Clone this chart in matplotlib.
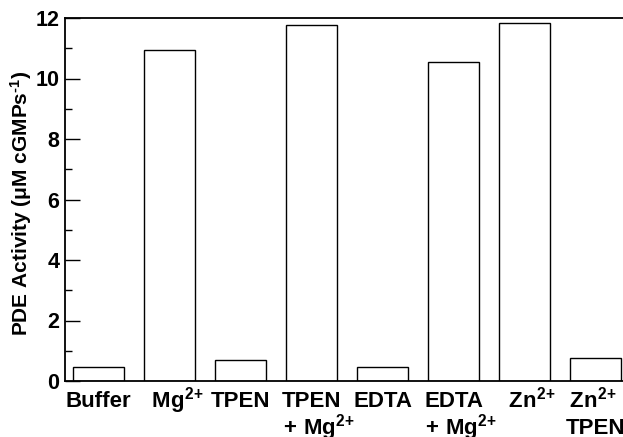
import matplotlib
matplotlib.use("Agg")
import matplotlib.pyplot as plt
from matplotlib.ticker import MultipleLocator, FixedLocator

plt.rcParams["font.family"] = ["Liberation Sans", "DejaVu Sans"]
plt.rcParams["font.weight"] = "bold"
plt.rcParams["mathtext.fontset"] = "custom"
plt.rcParams["mathtext.rm"] = "Liberation Sans:bold"
plt.rcParams["mathtext.it"] = "Liberation Sans:bold"
plt.rcParams["mathtext.bf"] = "Liberation Sans:bold"
plt.rcParams["mathtext.default"] = "rm"

# superscript charge, with a matching blank on the left so the element
# symbol itself stays centred under its bar
ION = "$^{2}$$^{+}$"
PAD = "$\\hspace{0.8}$"

# Treatments (two-line names) and measured PDE activity (µM cGMP s^-1)
labels_top = [
    "Buffer",
    PAD + "Mg" + ION,
    "TPEN",
    "TPEN",
    "EDTA",
    "EDTA",
    PAD + "Zn" + ION,
    PAD + "Zn" + ION + " +",
]
labels_bottom = [
    "",
    "",
    "",
    PAD + "+ Mg" + ION,
    "",
    PAD + "+ Mg" + ION,
    "",
    "TPEN",
]
activity = [0.46, 10.94, 0.70, 11.78, 0.46, 10.56, 11.82, 0.75]

fig = plt.figure(figsize=(6.23, 4.37), dpi=100)
ax = fig.add_axes([65 / 623, 56 / 437, 1 - 65 / 623, 363 / 437])

x = list(range(len(activity)))
ax.bar(x, activity, width=0.73, facecolor="white", edgecolor="black",
       linewidth=1.0)

ax.set_xlim(-0.472, 7.387)
ax.set_ylim(0, 12)

# first text line on the major ticks, second line on minor ticks at the
# same positions; baseline alignment keeps each row level
ax.xaxis.remove_overlapping_locs = False
ax.set_xticks(x)
ax.set_xticklabels(labels_top, fontsize=16, fontweight="bold", va="baseline")
ax.xaxis.set_minor_locator(FixedLocator(x))
ax.set_xticklabels(labels_bottom, minor=True, fontsize=16, fontweight="bold",
                   va="baseline")
ax.tick_params(axis="x", which="major", length=0, pad=19)
ax.tick_params(axis="x", which="minor", length=0, pad=38.5)

ax.yaxis.set_major_locator(MultipleLocator(2))
ax.yaxis.set_minor_locator(MultipleLocator(1))
ax.tick_params(axis="y", which="major", direction="in", length=11, width=1.0,
               labelsize=15.5, pad=4)
ax.tick_params(axis="y", which="minor", direction="in", length=5, width=1.0)
for lab in ax.get_yticklabels():
    lab.set_fontweight("bold")

ax.spines["right"].set_visible(False)
for s in ("left", "top", "bottom"):
    ax.spines[s].set_linewidth(1.3)

ax.set_ylabel("PDE Activity (\u03bcM cGMPs$^{\\text{-1}}$)", fontsize=15,
              fontweight="bold")
ax.yaxis.set_label_coords(-0.055, 0.49)

fig.savefig("out.png", dpi=100)
